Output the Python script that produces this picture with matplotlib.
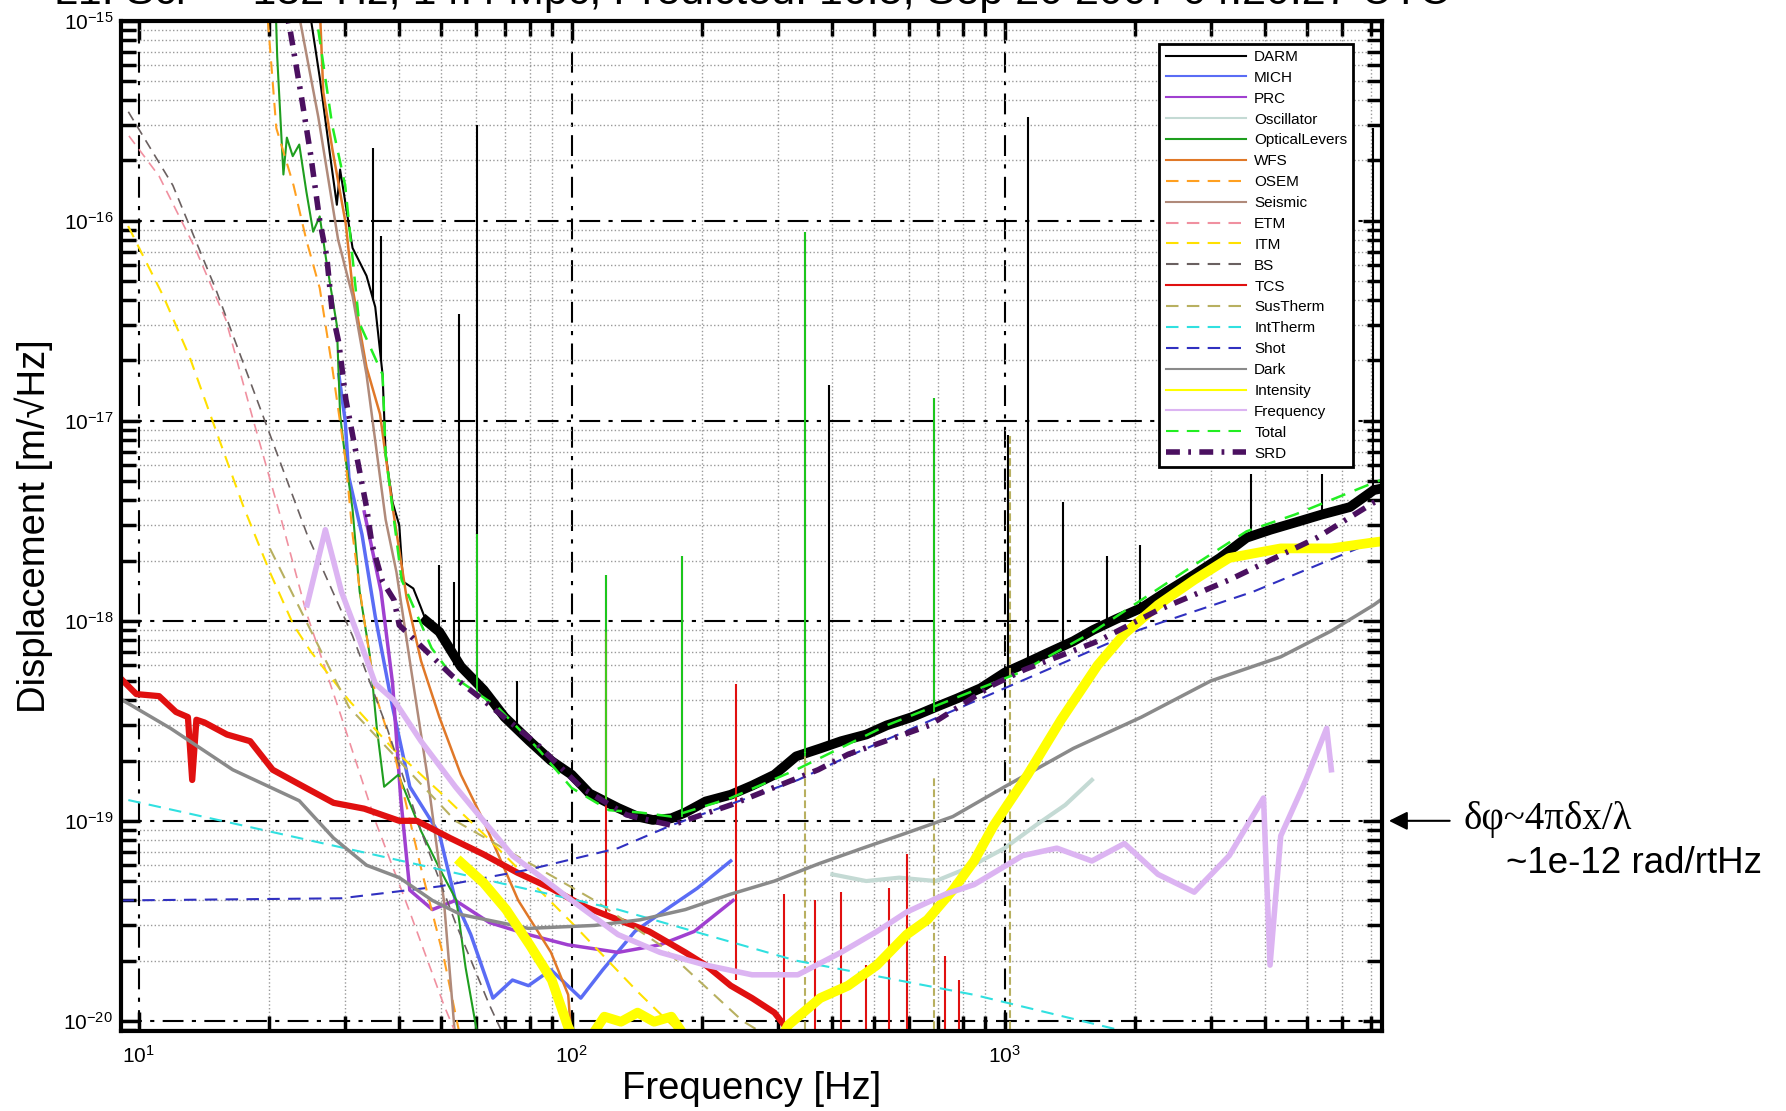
import numpy as np
import matplotlib
matplotlib.use("Agg")
import matplotlib.pyplot as plt

plt.rcParams['font.family'] = ['Liberation Sans', 'DejaVu Sans']
plt.rcParams['mathtext.fontset'] = 'custom'
plt.rcParams['mathtext.rm'] = 'Liberation Sans'
plt.rcParams['mathtext.default'] = 'regular'

# noise budget curves (f in Hz, displacement in m/rtHz)
darm_f = [24.8, 26.2, 27.7, 28.7, 29.2, 31.2, 33.6, 35.2, 36.6, 37.2, 38.6, 40.0, 40.8, 43.1, 44.7,
          46.1, 49.5, 55.5, 62.7, 70, 80, 89.6, 100, 110, 128, 142, 154, 170, 183, 204, 233, 261,
          294, 330, 375, 419, 479, 534, 611, 693, 779, 880, 1000, 1112, 1256, 1440, 1602, 1810,
          2070, 2380, 2740, 3140, 3620, 4110, 4690, 5410, 6270, 7120, 7490]
darm_v = [1.14e-15, 5.2e-16, 2.1e-16, 1.2e-16, 1.8e-16, 7.3e-17, 5.3e-17, 3.7e-17, 1.7e-17, 6.8e-18,
          3.9e-18, 3.0e-18, 1.57e-18, 1.45e-18, 1.19e-18, 1.0e-18, 8.8e-19, 5.9e-19, 4.5e-19, 3.3e-19,
          2.5e-19, 2.0e-19, 1.7e-19, 1.37e-19, 1.16e-19, 1.05e-19, 1.01e-19, 1.03e-19, 1.1e-19,
          1.25e-19, 1.35e-19, 1.5e-19, 1.7e-19, 2.1e-19, 2.3e-19, 2.5e-19, 2.7e-19, 3.0e-19, 3.3e-19,
          3.7e-19, 4.1e-19, 4.6e-19, 5.5e-19, 6.1e-19, 6.9e-19, 7.9e-19, 9.0e-19, 1.02e-18, 1.16e-18,
          1.41e-18, 1.7e-18, 2.06e-18, 2.6e-18, 2.85e-18, 3.1e-18, 3.4e-18, 3.7e-18, 4.5e-18, 4.6e-18]
darm_line_f = [34.8, 36.3, 49.5, 53.5, 54.9, 60.4, 74.6, 120, 180, 345, 393, 688, 1020, 1130, 1360,
               1720, 2050, 3710, 5400, 7100]
darm_line_lo = [4e-17, 2e-17, 9e-19, 6e-19, 6e-19, 4.5e-19, 3e-19, 1.25e-19, 1.1e-19, 2.2e-19, 2.4e-19,
                3.7e-19, 5.6e-19, 6.2e-19, 7.5e-19, 9.5e-19, 1.15e-18, 2.6e-18, 3.4e-18, 4.4e-18]
darm_line_hi = [2.3e-16, 8.4e-17, 1.9e-18, 1.57e-18, 3.4e-17, 3.0e-16, 5.0e-19, 1.7e-18, 2.1e-18,
                8.8e-17, 1.5e-17, 1.3e-17, 8.5e-18, 3.3e-16, 3.9e-18, 2.1e-18, 2.4e-18, 5.4e-18,
                5.4e-18, 2.9e-16]

mich_f = [29, 30, 30.6, 32.8, 35.2, 38.6, 42.3, 49.5, 53.9, 58.5, 65.8, 73, 79.5, 89.6, 105, 118, 140,
          162, 195, 233]
mich_v = [1.7e-17, 1.0e-17, 5.2e-18, 2.7e-18, 1.05e-18, 3.7e-19, 1.48e-19, 8.6e-20, 4.0e-20, 2.7e-20,
          1.3e-20, 1.6e-20, 1.5e-20, 1.8e-20, 1.3e-20, 1.8e-20, 2.8e-20, 3.5e-20, 4.6e-20, 6.3e-20]

prc_f = [33.2, 36.3, 38.6, 40.3, 42.3, 47.7, 53.9, 64.6, 79.5, 98, 128, 160, 192, 236]
prc_v = [3.5e-18, 1.4e-18, 4.85e-19, 1.3e-19, 4.5e-20, 3.6e-20, 4.0e-20, 3.1e-20, 2.7e-20, 2.4e-20,
         2.2e-20, 2.4e-20, 2.8e-20, 4.0e-20]

osc_f = [400, 479, 571, 693, 820, 1000, 1180, 1380, 1590]
osc_v = [5.4e-20, 5.0e-20, 5.2e-20, 5.0e-20, 5.8e-20, 7.3e-20, 9.5e-20, 1.2e-19, 1.6e-19]

ol_f = [20.7, 20.9, 21.6, 22.0, 22.7, 23.5, 24.4, 25.3, 26.2, 27.2, 28.7, 29.2, 29.8, 31.2, 32.4,
        34.2, 35.5, 36.9, 39.8, 44.9, 49.5, 54.2, 56.9, 60.4]
ol_v = [1.3e-15, 6.6e-16, 1.7e-16, 2.6e-16, 2.1e-16, 2.4e-16, 1.4e-16, 8.8e-17, 1.05e-16, 6.1e-17,
        3.0e-17, 1.07e-17, 7.4e-18, 3.6e-18, 1.4e-18, 6.7e-19, 2.9e-19, 1.48e-19, 1.7e-19, 8.9e-20,
        5.8e-20, 4.0e-20, 1.85e-20, 8.9e-21]

wfs_f = [26.2, 26.7, 28.0, 30.1, 31.2, 33.6, 36.1, 38.6, 41.6, 44.9, 49.5, 55.5, 62.6, 75.3, 89.6,
         98.2, 100]
wfs_v = [1.2e-15, 4.4e-16, 2.3e-16, 9.6e-17, 4.6e-17, 1.85e-17, 1.08e-17, 3.7e-18, 1.3e-18, 6.3e-19,
         3.3e-19, 1.7e-19, 1.0e-19, 4.0e-20, 2.2e-20, 1.35e-20, 8.0e-21]

osem_f = [19.7, 20.8, 22.8, 24.4, 26.2, 28.0, 30.1, 31.2, 32.4, 35.2, 38.9, 44.9, 50.7, 55.5]
osem_v = [1.3e-15, 2.9e-16, 1.5e-16, 8.0e-17, 4.6e-17, 1.85e-17, 6.2e-18, 2.7e-18, 1.44e-18, 4.3e-19,
          2.2e-19, 5.8e-20, 2.06e-20, 8.0e-21]

seis_f = [23.5, 26.0, 28.9, 31.2, 33.6, 37.2, 39.4, 42.3, 46.4, 50.7, 53.9]
seis_v = [1.05e-15, 3.3e-16, 8.0e-17, 4.2e-17, 1.7e-17, 3.2e-18, 1.75e-18, 6.3e-19, 1.7e-19, 4.0e-20,
          8.0e-21]

etm_f = [9.5, 11.15, 13.5, 15.9, 18.3, 21.2, 24.4, 29.4, 35.2, 42.3, 50.7, 60]
etm_v = [2.65e-16, 1.67e-16, 7.3e-17, 3.2e-17, 1.05e-17, 3.4e-18, 1.1e-18, 3.3e-19, 1.0e-19, 3.5e-20,
         1.2e-20, 5e-21]

itm_f = [9.46, 11.4, 13.1, 15.1, 17.4, 20.1, 22.8, 25.0, 30.6, 38.6, 49.5, 62.6, 100, 142, 185]
itm_v = [9.4e-17, 4.2e-17, 2.1e-17, 8.9e-18, 3.8e-18, 1.75e-18, 9.5e-19, 7.0e-19, 4.0e-19, 2.3e-19,
         1.4e-19, 8.6e-20, 3.1e-20, 1.4e-20, 8e-21]

bs_f = [9.47, 12.0, 15.1, 19.4, 24.5, 31.2, 37.5, 44.9, 53.9, 64.6, 75]
bs_v = [3.5e-16, 1.5e-16, 4.5e-17, 1.05e-17, 2.7e-18, 8.4e-19, 2.9e-19, 8.9e-20, 3.1e-20, 1.2e-20, 6e-21]

tcs_f = [9.13, 9.88, 11.15, 12.2, 13.0, 13.3, 13.6, 14.2, 16.0, 18.1, 20.4, 23.8, 28.2, 33.2, 40.0,
         43.9, 52.4, 62.6, 75, 89.6, 108, 128, 151, 183, 204, 233, 261, 294, 316, 333]
tcs_v = [5.1e-19, 4.3e-19, 4.2e-19, 3.5e-19, 3.3e-19, 1.6e-19, 3.2e-19, 3.1e-19, 2.7e-19, 2.5e-19,
         1.8e-19, 1.5e-19, 1.23e-19, 1.15e-19, 1.0e-19, 1.0e-19, 8.2e-20, 6.8e-20, 5.5e-20, 4.6e-20,
         3.7e-20, 3.2e-20, 2.8e-20, 2.2e-20, 1.9e-20, 1.5e-20, 1.3e-20, 1.1e-20, 9e-21, 7e-21]
tcs_line_f = [120, 240, 309, 364, 419, 479, 541, 594, 728, 785]
tcs_line_lo = [3.4e-20, 1.6e-20, 8e-21, 8e-21, 8e-21, 8e-21, 8e-21, 8e-21, 8e-21, 8e-21]
tcs_line_hi = [8.8e-19, 4.85e-19, 4.3e-20, 4.0e-20, 4.4e-20, 1.9e-20, 4.6e-20, 6.8e-20, 2.1e-20, 1.6e-20]

sus_f = [20.1, 30.6, 53.9, 113, 160, 248, 294]
sus_v = [2.3e-18, 3.7e-19, 1.0e-19, 4.0e-20, 2.4e-20, 1.0e-20, 8.0e-21]
sus_line_f = [345, 688, 1030]
sus_line_lo = [8e-21, 8e-21, 8e-21]
sus_line_hi = [2.2e-19, 1.7e-19, 8.5e-18]

int_therm_f = [9.47, 34.7, 128, 330, 850, 1840, 2100]
int_therm_v = [1.27e-19, 6.8e-20, 3.6e-20, 2.0e-20, 1.35e-20, 9.0e-21, 8.4e-21]

shot_f = [9.13, 29.4, 49.5, 79.5, 128, 170, 333, 435, 1000, 2044, 3757, 7490]
shot_v = [4.0e-20, 4.1e-20, 4.7e-20, 5.7e-20, 7.3e-20, 9.5e-20, 1.6e-19, 2.1e-19, 4.6e-19, 9.0e-19,
          1.4e-18, 2.6e-18]

dark_f = [9.2, 11.85, 16.5, 23.5, 28.2, 33.6, 40.0, 47.7, 55.5, 79.5, 113, 144, 183, 233, 294, 372,
          470, 594, 759, 1000, 1440, 2070, 2990, 4340, 5680, 7120, 7490]
dark_v = [4.0e-19, 2.9e-19, 1.8e-19, 1.26e-19, 8.2e-20, 6.0e-20, 5.2e-20, 4.0e-20, 3.4e-20, 2.9e-20,
          3.0e-20, 3.2e-20, 3.6e-20, 4.3e-20, 5.0e-20, 6.1e-20, 7.3e-20, 8.7e-20, 1.05e-19, 1.48e-19,
          2.3e-19, 3.3e-19, 5.0e-19, 6.6e-19, 8.9e-19, 1.2e-18, 1.3e-18]

int_f = [55.5, 62.6, 70.6, 80, 90, 98, 105, 119, 130, 142, 155, 170, 193, 294, 316, 375, 435, 507,
         594, 663, 759, 850, 944, 1130, 1350, 1640, 1890, 2260, 2740, 3300, 4340, 5680, 6970, 7490]
int_v = [6.2e-20, 4.9e-20, 3.6e-20, 2.4e-20, 1.6e-20, 9.4e-21, 7e-21, 1.05e-20, 9.9e-21, 1.1e-20,
         9.9e-21, 1.05e-20, 7e-21, 7e-21, 9.5e-21, 1.3e-20, 1.5e-20, 1.9e-20, 2.7e-20, 3.2e-20,
         4.5e-20, 6.3e-20, 9.5e-20, 1.7e-19, 3.2e-19, 6.0e-19, 8.6e-19, 1.2e-18, 1.6e-18, 2.06e-18,
         2.3e-18, 2.3e-18, 2.45e-18, 2.5e-18]

freq_f = [24.5, 27.0, 29.4, 32.2, 35.2, 38.9, 44.9, 53.9, 62.6, 73, 85.4, 100, 128, 160, 204, 261,
          333, 419, 507, 594, 730, 850, 1100, 1320, 1590, 1890, 2260, 2740, 3300, 3960, 4100, 4340,
          4960, 5540, 5680]
freq_v = [1.2e-18, 2.85e-18, 1.4e-18, 8.3e-19, 4.85e-19, 4.0e-19, 2.5e-19, 1.48e-19, 1.0e-19, 6.7e-20,
          5.2e-20, 4.0e-20, 2.7e-20, 2.2e-20, 1.9e-20, 1.7e-20, 1.7e-20, 2.2e-20, 2.8e-20, 3.5e-20,
          4.3e-20, 4.8e-20, 6.7e-20, 7.3e-20, 6.3e-20, 7.7e-20, 5.4e-20, 4.4e-20, 6.7e-20, 1.3e-19,
          1.9e-20, 8.4e-20, 1.6e-19, 2.9e-19, 1.8e-19]

tot_f = [25.5, 28.0, 30.0, 32.3, 36.6, 37.2, 40.5, 47.5, 53.0, 67.5, 83.5, 100, 122, 144, 170, 233,
         330, 534, 1080, 1600, 2740, 3620, 4690, 7120, 7490]
tot_v = [1.2e-15, 3.0e-16, 1.5e-16, 3.1e-17, 1.7e-17, 6.8e-18, 1.6e-18, 7.3e-19, 5.3e-19, 3.7e-19,
         2.3e-19, 1.46e-19, 1.13e-19, 1.1e-19, 1.05e-19, 1.3e-19, 1.8e-19, 3.0e-19, 5.5e-19, 8.8e-19,
         1.9e-18, 2.8e-18, 3.4e-18, 4.9e-18, 5.1e-18]
tot_line_f = [60.4, 120, 180, 345, 688]
tot_line_lo = [4.3e-19, 1.2e-19, 1.05e-19, 2.1e-19, 3.5e-19]
tot_line_hi = [2.7e-18, 1.7e-18, 2.1e-18, 8.8e-17, 1.3e-17]

srd_f = [21.6, 22.4, 23.8, 25.0, 26.2, 27.2, 28.0, 29.0, 30.1, 31.2, 33.6, 34.6, 36.6, 38.9, 40.0, 53,
         62.6, 83.5, 105.5, 134, 170, 233, 371, 435, 670, 944, 1112, 1640, 2260, 3300, 5260, 7120,
         7490]
srd_v = [1.3e-15, 8.9e-16, 4.1e-16, 2.1e-16, 1.0e-16, 6.6e-17, 3.5e-17, 2.45e-17, 1.28e-17, 8.5e-18,
         3.7e-18, 2.4e-18, 1.57e-18, 1.27e-18, 9.5e-19, 5.3e-19, 4.0e-19, 2.4e-19, 1.46e-19, 1.07e-19,
         9.5e-20, 1.2e-19, 1.8e-19, 2.15e-19, 3.0e-19, 4.8e-19, 5.7e-19, 7.9e-19, 1.13e-18, 1.6e-18,
         2.6e-18, 3.9e-18, 4.1e-18]

dash = (0, (6, 4))

fig = plt.figure(figsize=(17.86, 11.11), dpi=100)
ax = fig.add_axes([0.068, 0.072, 0.706, 0.9095])
ax.set_xscale('log')
ax.set_yscale('log')

ax.plot(darm_f, darm_v, color='k', lw=1.5, label='DARM')
ax.plot(darm_f[15:], darm_v[15:], color='k', lw=7, solid_joinstyle='round')
ax.vlines(darm_line_f, darm_line_lo, darm_line_hi, color='k', lw=1.5)
ax.plot(mich_f, mich_v, color='#5a6cf5', lw=2.5, label='MICH')
ax.plot(prc_f, prc_v, color='#a040d0', lw=2.5, label='PRC')
ax.plot(osc_f, osc_v, color='#c4dad4', lw=3, label='Oscillator')
ax.plot(ol_f, ol_v, color='#1e9e1e', lw=1.5, label='OpticalLevers')
ax.plot(wfs_f, wfs_v, color='#e07828', lw=1.8, label='WFS')
ax.plot(osem_f, osem_v, color='#ffa020', lw=1.5, ls=dash, label='OSEM')
ax.plot(seis_f, seis_v, color='#b08a7a', lw=1.8, label='Seismic')
ax.plot(etm_f, etm_v, color='#f090a0', lw=1.2, ls=dash, label='ETM')
ax.plot(itm_f, itm_v, color='#ffe000', lw=1.5, ls=dash, label='ITM')
ax.plot(bs_f, bs_v, color='#6a6060', lw=1.2, ls=dash, label='BS')
ax.plot(tcs_f, tcs_v, color='#e01010', lw=4.5, label='TCS')
ax.vlines(tcs_line_f, tcs_line_lo, tcs_line_hi, color='#e01010', lw=1.5)
ax.plot(sus_f, sus_v, color='#b8b060', lw=1.5, ls=dash, label='SusTherm')
ax.vlines(sus_line_f, sus_line_lo, sus_line_hi, color='#b8b060', lw=1.5, linestyles='--')
ax.plot(int_therm_f, int_therm_v, color='#30e0e0', lw=1.5, ls=dash, label='IntTherm')
ax.plot(shot_f, shot_v, color='#3030c0', lw=1.5, ls=dash, label='Shot')
ax.plot(dark_f, dark_v, color='#8a8a8a', lw=2.5, label='Dark')
ax.plot(int_f, int_v, color='#ffff00', lw=7, label='Intensity')
ax.plot(freq_f, freq_v, color='#dcb4f2', lw=4, label='Frequency')
ax.plot(tot_f, tot_v, color='#22ee22', lw=1.8, ls=dash, label='Total')
ax.vlines(tot_line_f, tot_line_lo, tot_line_hi, color='#22ee22', lw=1.2)
ax.plot(srd_f, srd_v, color='#4b1060', lw=4, ls=(0, (2.5, 1.5, 0.5, 1.5)), label='SRD')

ax.set_xlim(9.13, 7450)
ax.set_ylim(8.9e-21, 1e-15)

ax.set_axisbelow(True)
ax.grid(True, which='major', color='k', ls=(0, (10, 4, 2, 4)), lw=1.5)
ax.grid(True, which='minor', color='#999999', ls=':', lw=1)
for s in ax.spines.values():
    s.set_linewidth(3)
ax.tick_params(which='both', direction='in', top=True, right=True, width=2.5, labelsize=15)
ax.tick_params(which='major', length=14)
ax.tick_params(which='minor', length=11)
ax.tick_params(axis='x', pad=10)
ax.tick_params(axis='y', pad=6)

ax.set_xlabel('Frequency [Hz]', fontsize=27.5)
ax.set_ylabel('Displacement [m/\u221aHz]', fontsize=27.5)
ax.xaxis.set_label_coords(0.5, -0.04)
ax.yaxis.set_label_coords(-0.054, 0.5)

leg = ax.legend(loc='upper right', bbox_to_anchor=(0.977, 0.977), borderaxespad=0, fontsize=11,
                handlelength=5.3, labelspacing=0.45, fancybox=False, edgecolor='k', framealpha=1,
                borderpad=0.4, handletextpad=0.5)
leg.get_frame().set_linewidth(2)
for h in leg.get_lines()[:-1]:
    h.set_linewidth(1.5)

fig.text(0.421, 0.9965, 'L1: Sci \u2014 132 Hz, 14.4 Mpc, Predicted: 16.5, Sep 20 2007 04:20:27 UTC',
         ha='center', va='baseline', fontsize=31)

ax.annotate('', xy=(1.003, 1e-19), xycoords=('axes fraction', 'data'),
            xytext=(1.0556, 1e-19), textcoords=('axes fraction', 'data'),
            arrowprops=dict(arrowstyle='-|>', color='k', lw=1.5, mutation_scale=28),
            annotation_clip=False)
fig.text(0.8197, 0.262, '\u03b4\u03c6~4\u03c0\u03b4x/\u03bb', va='center', fontsize=28,
         family=['Liberation Serif', 'DejaVu Serif'])
fig.text(0.8432, 0.2232, '~1e-12 rad/rtHz', va='center', fontsize=26.5)

fig.savefig('out.png', dpi=100)
